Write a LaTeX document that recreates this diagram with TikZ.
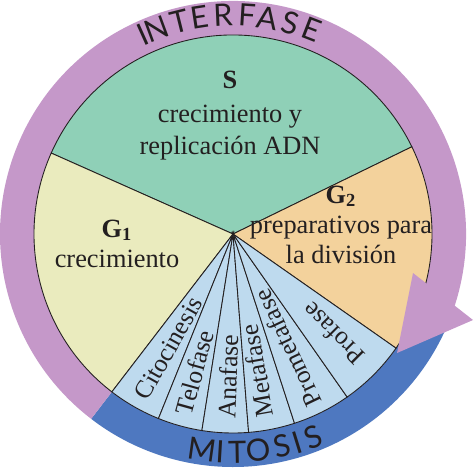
\documentclass[tikz,border=0pt]{standalone}
\usepackage{fontspec}
\setmainfont{Liberation Serif}
\newfontfamily\ringfont{Lato}
\definecolor{ringviolet}{RGB}{197,152,201}
\definecolor{ringblue}{RGB}{78,120,192}
\definecolor{sgreen}{RGB}{143,208,183}
\definecolor{gonecol}{RGB}{234,235,190}
\definecolor{gtwocol}{RGB}{243,210,156}
\definecolor{mitblue}{RGB}{190,218,238}
\definecolor{ink}{RGB}{35,31,32}

\begin{document}
\begin{tikzpicture}[
  sector/.style={draw=ink, line width=0.5pt},
  phasetext/.style={font=\fontsize{15}{18}\selectfont, text=ink, inner sep=0pt, anchor=base},
  mitotext/.style={font=\fontsize{14.5}{17}\selectfont, text=ink, inner sep=0pt, anchor=west},
  ringletter/.style={font=\ringfont\fontsize{17.5}{17.5}\selectfont, text=ink, inner sep=0pt}
]
\useasboundingbox (-4.66,-4.72) rectangle (4.82,4.68);

% outer ring: mitosis part and interfase shaft
\fill[ringblue] (232.5:4.66) arc[start angle=232.5, end angle=340, radius=4.66]
  -- (340:3.98) arc[start angle=340, end angle=232.5, radius=3.98] -- cycle;
\fill[ringviolet] (-20:4.66) arc[start angle=-20, end angle=232.5, radius=4.66]
  -- (232.5:3.98) arc[start angle=232.5, end angle=-20, radius=3.98] -- cycle;

% phases
\filldraw[sector, fill=sgreen] (0,0) -- (26:3.98) arc[start angle=26, end angle=156, radius=3.98] -- cycle;
\filldraw[sector, fill=gonecol] (0,0) -- (156:3.98) arc[start angle=156, end angle=232.5, radius=3.98] -- cycle;
\filldraw[sector, fill=gtwocol] (0,0) -- (-35:3.98) arc[start angle=-35, end angle=26, radius=3.98] -- cycle;
\foreach \a/\b in {232.5/248, 248/261, 261/274.5, 274.5/288, 288/305, 305/325}
  \filldraw[sector, fill=mitblue] (0,0) -- (\a:3.98) arc[start angle=\a, end angle=\b, radius=3.98] -- cycle;

% arrow head
\fill[ringviolet] (3.60,-0.78) -- (3.28,-2.38) -- (4.80,-1.72) -- cycle;

% phase labels
\node[phasetext] (s-title) at (-0.06,2.92) {\textbf{S}};
\node[phasetext] (s-one) at (-0.06,2.24) {crecimiento y};
\node[phasetext] (s-two) at (-0.06,1.60) {replicación ADN};
\node[phasetext] (gone-title) at (-2.32,-0.06) {\textbf{G\textsubscript{1}}};
\node[phasetext] (gone-one) at (-2.32,-0.66) {crecimiento};
\node[phasetext] (gtwo-title) at (2.16,0.62) {\textbf{G\textsubscript{2}}};
\node[phasetext] (gtwo-one) at (2.16,0.02) {preparativos para};
\node[phasetext] (gtwo-two) at (2.16,-0.58) {la división};

% mitosis stages
\foreach \t/\a/\r in {Citocinesis/240.5/3.76, Telofase/254.5/3.74, Anafase/268/3.70,
    Metafase/280/3.72, Prometafase/295.5/3.80, Profase/315/3.60}
  \node[mitotext, rotate=\a-180] (stage-\t) at (\a:\r) {\t};

% ring titles
\foreach \l/\a [count=\i] in {I/114.3, N/110.3, T/104.0, E/98.7, R/92.6, F/86.3, A/80.8, S/74.9, E/68.9}
  \node[ringletter, rotate=\a-90] (inter-\i) at (\a:4.38) {\l};
\foreach \l/\a [count=\i] in {M/-98, I/-93.4, T/-88.9, O/-83.4, S/-76.9, I/-72.8, S/-68.5}
  \node[ringletter, rotate=\a+90] (mito-\i) at (\a:4.36) {\l};
\end{tikzpicture}
\end{document}
